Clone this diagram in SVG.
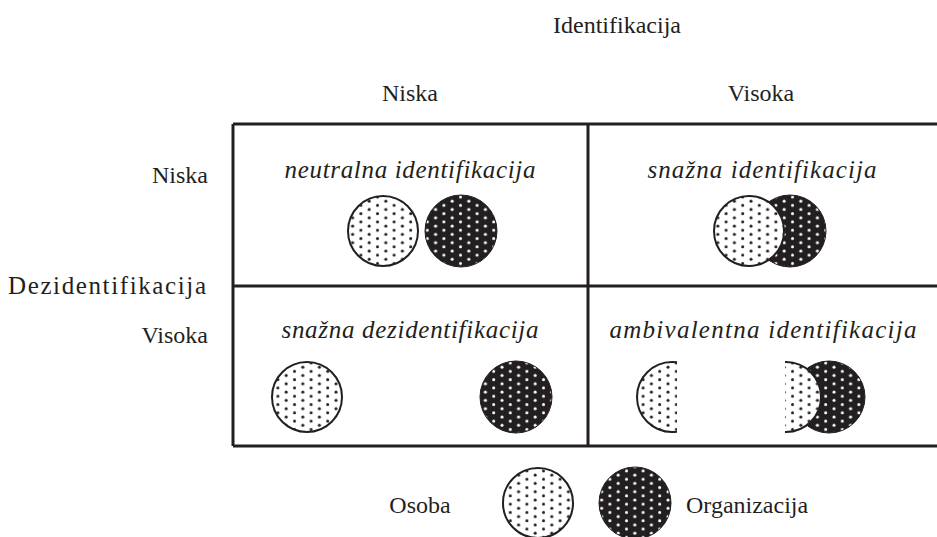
<svg xmlns="http://www.w3.org/2000/svg" width="937" height="537" viewBox="0 0 937 537">
<style>
text{font-family:"Liberation Serif","Times New Roman",Tinos,"DejaVu Serif",serif;font-size:24px;fill:#231f20}
.it{font-style:italic;font-size:25px}
.big{font-size:25px}
.grid{stroke:#231f20;stroke-width:3;fill:none}
.pw{fill:url(#dotsB);stroke:#231f20;stroke-width:2}
.pb{fill:url(#dotsW);stroke:#231f20;stroke-width:1}
</style>
<defs>
<pattern id="dotsB" width="16.6" height="8.3" patternUnits="userSpaceOnUse">
<rect width="16.6" height="8.3" fill="#fff"/>
<circle cx="4" cy="2" r="1.5" fill="#231f20"/>
<circle cx="12.3" cy="6.15" r="1.5" fill="#231f20"/>
</pattern>
<pattern id="dotsW" width="16.6" height="8.3" patternUnits="userSpaceOnUse">
<rect width="16.6" height="8.3" fill="#231f20"/>
<circle cx="4" cy="2" r="1.5" fill="#fff"/>
<circle cx="12.3" cy="6.15" r="1.5" fill="#fff"/>
</pattern>
<clipPath id="cutL"><rect x="600" y="340" width="77" height="120"/></clipPath>
<clipPath id="cutR"><rect x="785" y="340" width="60" height="120"/></clipPath>
</defs>
<g id="connectors">
<path class="grid" d="M233 124 H937 M233 286 H937 M233 446 H937 M233 124 V446 M588 124 V446"/>
</g>
<g id="headers">
<text x="617" y="33" text-anchor="middle">Identifikacija</text>
<text x="410" y="101" text-anchor="middle">Niska</text>
<text x="761" y="101" text-anchor="middle">Visoka</text>
<text x="208" y="183" text-anchor="end">Niska</text>
<text class="big" x="8" y="294" textLength="198" lengthAdjust="spacing">Dezidentifikacija</text>
<text x="208" y="343" text-anchor="end">Visoka</text>
</g>
<g id="cell-neutral">
<text class="it" x="410" y="178" text-anchor="middle" textLength="251" lengthAdjust="spacing">neutralna identifikacija</text>
<circle class="pw" cx="383" cy="231" r="35"/>
<circle class="pb" cx="461" cy="231" r="36"/>
</g>
<g id="cell-strong-id">
<text class="it" x="762" y="178" text-anchor="middle" textLength="229" lengthAdjust="spacing">snažna identifikacija</text>
<circle class="pb" cx="790" cy="231" r="36"/>
<circle class="pw" cx="749" cy="231" r="35"/>
</g>
<g id="cell-strong-dis">
<text class="it" x="410" y="338" text-anchor="middle" textLength="257" lengthAdjust="spacing">snažna dezidentifikacija</text>
<circle class="pw" cx="307" cy="397" r="35"/>
<circle class="pb" cx="516" cy="397" r="36"/>
</g>
<g id="cell-ambivalent">
<text class="it" x="763" y="338" text-anchor="middle" textLength="307" lengthAdjust="spacing">ambivalentna identifikacija</text>
<circle class="pw" cx="672" cy="397" r="35" clip-path="url(#cutL)"/>
<circle class="pb" cx="829" cy="397" r="36"/>
<circle class="pw" cx="786" cy="397" r="35" clip-path="url(#cutR)"/>
</g>
<g id="legend">
<text x="420" y="513" text-anchor="middle">Osoba</text>
<circle class="pw" cx="538" cy="503" r="35"/>
<circle class="pb" cx="635" cy="503" r="36"/>
<text x="686" y="513">Organizacija</text>
</g>
</svg>
